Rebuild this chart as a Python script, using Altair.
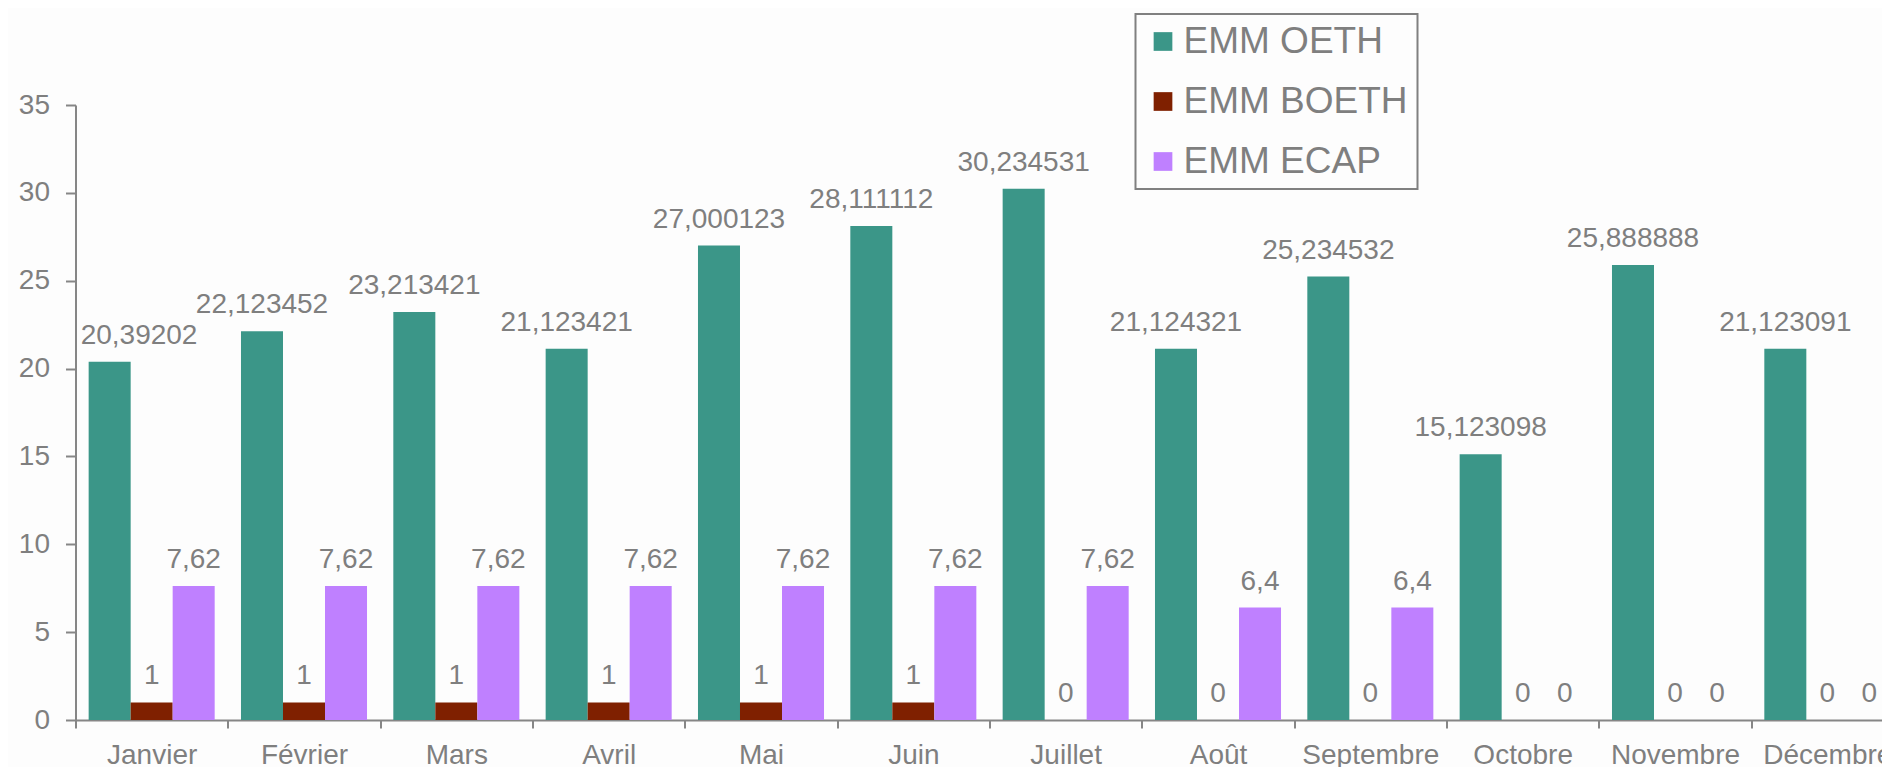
import altair as alt
import pandas as pd

months = ["Janvier", "Février", "Mars", "Avril", "Mai", "Juin", "Juillet",
          "Août", "Septembre", "Octobre", "Novembre", "Décembre"]
series = ["EMM OETH", "EMM BOETH", "EMM ECAP"]
oeth = [20.39202, 22.123452, 23.213421, 21.123421, 27.000123, 28.111112,
        30.234531, 21.124321, 25.234532, 15.123098, 25.888888, 21.123091]
boeth = [1, 1, 1, 1, 1, 1, 0, 0, 0, 0, 0, 0]
ecap = [7.62, 7.62, 7.62, 7.62, 7.62, 7.62, 7.62, 6.4, 6.4, 0, 0, 0]
colors = ["#3B9688", "#7F2000", "#BF80FF"]
y_ticks = [0, 5, 10, 15, 20, 25, 30, 35]

rows = []
for i, m in enumerate(months):
    for s, vals in zip(series, [oeth, boeth, ecap]):
        rows.append({"month": m, "series": s, "value": vals[i]})
df = pd.DataFrame(rows)

GRAY = "#7f7f7f"
AXIS = "#868686"
FONT = "Liberation Sans"

base = alt.Chart(df).encode(
    x=alt.X("month:N", sort=months, title=None,
            scale=alt.Scale(paddingInner=0, paddingOuter=0),
            axis=alt.Axis(tickBand="extent", labelAngle=0, labelFontSize=28,
                          labelColor=GRAY, labelFont=FONT, labelPadding=13,
                          tickSize=8, tickColor=AXIS, tickWidth=2,
                          domainColor=AXIS, domainWidth=2, grid=False)),
    xOffset=alt.XOffset("series:N", sort=series,
                        scale=alt.Scale(paddingInner=0, paddingOuter=0.313)),
    y=alt.Y("value:Q", title=None,
            scale=alt.Scale(domain=[0, 35], nice=False),
            axis=alt.Axis(values=y_ticks, grid=False, labelFontSize=28,
                          labelColor=GRAY, labelFont=FONT, labelPadding=16,
                          tickSize=10, tickColor=AXIS, tickWidth=2,
                          domainColor=AXIS, domainWidth=2)),
)

bars = base.mark_bar().encode(
    color=alt.Color("series:N", sort=series,
                    scale=alt.Scale(domain=series, range=colors),
                    legend=alt.Legend(title=None, orient="none",
                                      legendX=1060, legendY=-91,
                                      labelFontSize=37, labelColor=GRAY,
                                      labelFont=FONT, labelLimit=500,
                                      symbolType="square",
                                      symbolSize=350, symbolStrokeWidth=0,
                                      labelOffset=2, rowPadding=22,
                                      padding=9, strokeColor="#808080")),
)

label_expr = "replace(toString(datum.value), '.', ',')"

text = base.mark_text(baseline="alphabetic", dy=-18, fontSize=28,
                      color=GRAY, font=FONT).transform_calculate(
    label=label_expr
).transform_filter(
    "!(datum.month == 'Janvier' && datum.series == 'EMM OETH')"
).encode(text="label:N")

text_first = base.mark_text(baseline="alphabetic", dy=-18, dx=-29,
                            align="left", fontSize=28, color=GRAY,
                            font=FONT).transform_calculate(
    label=label_expr
).transform_filter(
    "datum.month == 'Janvier' && datum.series == 'EMM OETH'"
).encode(text="label:N")

chart = alt.layer(bars, text, text_first).properties(
    width=1828, height=615,
    padding={"left": 67.5, "top": 97, "right": -22, "bottom": 50},
    autosize=alt.AutoSizeParams(type="none"),
    background="#fdfdfd",
).configure_view(stroke=None).configure_legend(strokeWidth=2)

chart.save("out.html", embed_options={"renderer": "svg", "actions": False})
